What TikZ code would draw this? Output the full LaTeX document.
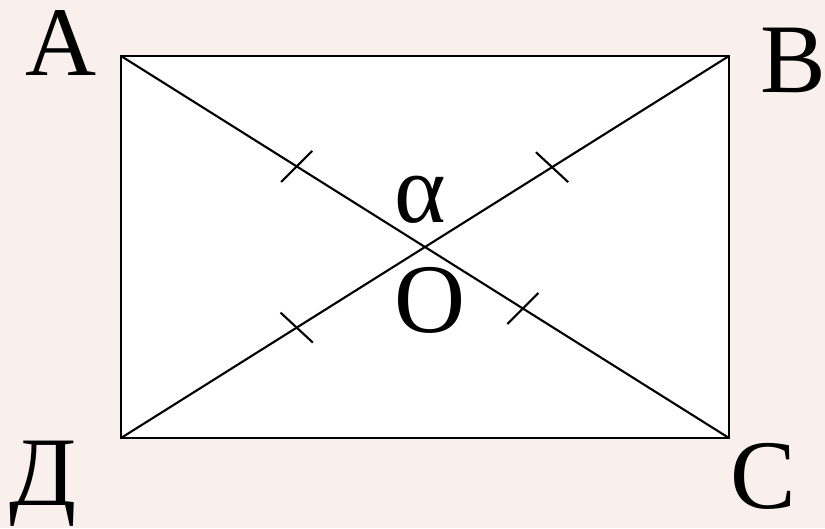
\documentclass[tikz,border=0pt]{standalone}
\usepackage{fontspec}
\setmainfont{Liberation Serif}
\usetikzlibrary{calc}
\definecolor{paperpink}{RGB}{249, 239, 236}
\tikzset{
  side/.style={
    draw=black,
    line width=1.3pt,
    fill=white
  },
  diag/.style={
    draw=black,
    line width=1.2pt
  },
  vlabel/.style={
    anchor=base,
    inner sep=0pt,
    font=\fontsize{56}{60}\selectfont
  }
}

\begin{document}
\begin{tikzpicture}[x=0.02cm, y=-0.02cm]
          \fill[paperpink] (0,0) rectangle (825,528);
          \useasboundingbox (0,0) rectangle (825,528);

          \coordinate (A) at (121,56);
          \coordinate (B) at (729,56);
          \coordinate (C) at (729,438);
          \coordinate (D) at (121,438);

          \path[side] (A) -- (B) -- (C) -- (D) -- cycle;
          \draw[diag] (A) -- (C);
          \draw[diag] (D) -- (B);
          \coordinate (O) at ($(A)!0.5!(C)$);

          % equal halves
          \foreach \p/\q/\t/\a/\b in {A/C/0.289/77/-103, A/C/0.661/77/-103,
                                      D/B/0.289/105/-75, D/B/0.709/105/-75}{
            \coordinate (m) at ($(\p)!\t!(\q)$);
            \draw[diag] ($(m)!0.44cm!\a:(\q)$) -- ($(m)!0.44cm!\b:(\q)$);
          }

          \node[vlabel] (lA) at (61,75) {A};
          \node[vlabel] (lB) at (793,92) {B};
          \node[vlabel] (lC) at (763,508) {C};
          \node[vlabel] (lD) at (43,505) {Д};
          \node[vlabel] (alpha) at (420,222) {α};
          \node[vlabel] (lO) at (430,332) {O};
        \end{tikzpicture}
\end{document}
